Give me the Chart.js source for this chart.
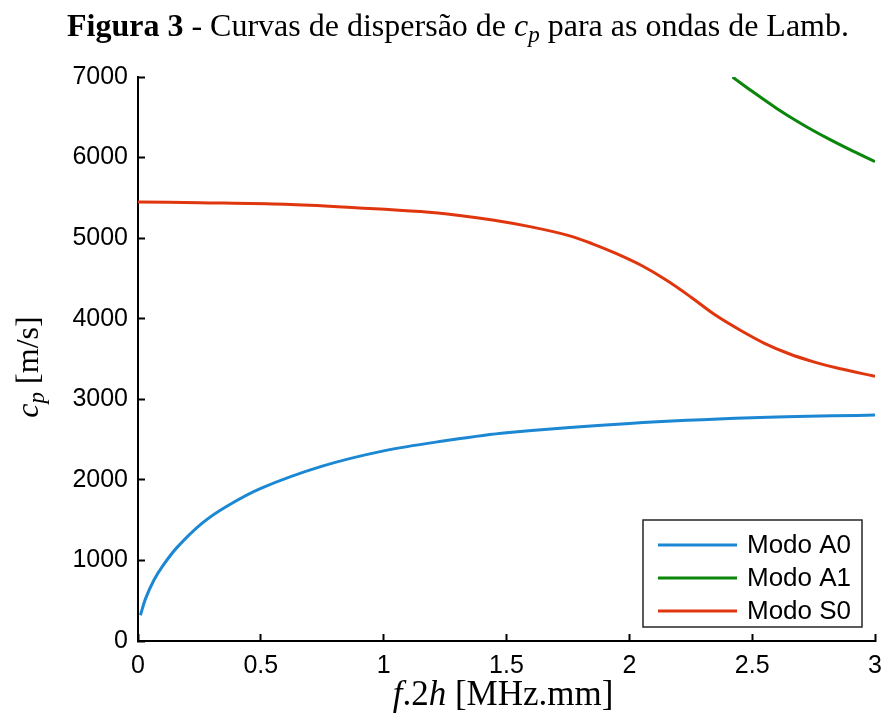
<!DOCTYPE html>
<html>
<head>
<meta charset="utf-8">
<script src="https://cdn.jsdelivr.net/npm/chart.js@4"></script>
<style>
  html, body { margin: 0; padding: 0; background: #fff; }
  #wrap { width: 883px; height: 715px; position: relative; }
</style>
</head>
<body>
<div id="wrap"><canvas id="grafico"></canvas></div>
<script>
// datos (f.2h en MHz.mm, cp en m/s)
const xA0 = [0.01, 0.03, 0.065, 0.1, 0.16, 0.26, 0.36, 0.5, 0.75, 1.0, 1.25, 1.5, 2.0, 2.5, 3.0];
const cpA0 = [320, 520, 757, 930, 1165, 1460, 1670, 1895, 2170, 2360, 2485, 2585, 2700, 2770, 2805];

const xA1 = [2.42, 2.5, 2.6, 2.7, 2.8, 2.9, 3.0];
const cpA1 = [7000, 6822, 6610, 6420, 6250, 6095, 5950];

const xS0 = [0, 0.25, 0.6, 0.9, 1.15, 1.3, 1.45, 1.6, 1.75, 1.85, 1.95, 2.05, 2.15, 2.25, 2.35, 2.45, 2.55, 2.65, 2.75, 2.85, 3.0];
const cpS0 = [5450, 5440, 5420, 5375, 5330, 5285, 5222, 5140, 5035, 4930, 4805, 4660, 4480, 4270, 4045, 3860, 3695, 3565, 3465, 3385, 3285];

const nomes = ["Modo A0", "Modo A1", "Modo S0"];
const cores = ["#1c87d2", "#0a860a", "#e0360e"];

const xTicks = [0, 0.5, 1, 1.5, 2, 2.5, 3];
const yTicks = [0, 1000, 2000, 3000, 4000, 5000, 6000, 7000];

function pares(xs, ys) {
  return xs.map((x, i) => ({ x: x, y: ys[i] }));
}

const serif = "'Liberation Serif', 'Times New Roman', serif";
const sans = "'Liberation Sans', Arial, sans-serif";

// escribe trozos de texto uno detras de otro (normal, negrita, italico, subindice)
function trozos(ctx, partes, x, y, tam) {
  let cx = x;
  partes.forEach((p) => {
    const t = p.sub ? tam * 0.72 : tam;
    ctx.font = `${p.i ? "italic " : ""}${p.b ? "bold " : ""}${t}px ${serif}`;
    ctx.fillText(p.t, cx, y + (p.sub ? tam * 0.19 : 0));
    cx += ctx.measureText(p.t).width;
  });
  return cx - x;
}

function anchoTrozos(ctx, partes, tam) {
  let w = 0;
  partes.forEach((p) => {
    const t = p.sub ? tam * 0.72 : tam;
    ctx.font = `${p.i ? "italic " : ""}${p.b ? "bold " : ""}${t}px ${serif}`;
    w += ctx.measureText(p.t).width;
  });
  return w;
}

const textos = {
  id: "textos",
  afterDraw(chart) {
    const ctx = chart.ctx;
    ctx.save();
    ctx.fillStyle = "#000";
    ctx.textBaseline = "alphabetic";
    ctx.textAlign = "left";

    // titulo
    const titulo = [
      { t: "Figura 3", b: true },
      { t: " - Curvas de dispersão de " },
      { t: "c", i: true },
      { t: "p", i: true, sub: true },
      { t: " para as ondas de Lamb." },
    ];
    const wt = anchoTrozos(ctx, titulo, 32);
    trozos(ctx, titulo, 458 - wt / 2, 36, 32);

    // eje x
    const ejeX = [
      { t: "f", i: true },
      { t: ".2" },
      { t: "h", i: true },
      { t: " [MHz.mm]" },
    ];
    const wx = anchoTrozos(ctx, ejeX, 35);
    trozos(ctx, ejeX, 503 - wx / 2, 705, 35);

    // eje y
    ctx.translate(38, 361);
    ctx.rotate(-Math.PI / 2);
    const ejeY = [
      { t: "c", i: true },
      { t: "p", i: true, sub: true },
      { t: " [m/s]" },
    ];
    const wy = anchoTrozos(ctx, ejeY, 32);
    trozos(ctx, ejeY, -wy / 2 - 6, 0, 32);
    ctx.restore();

    // leyenda dentro del grafico
    ctx.save();
    ctx.fillStyle = "#fff";
    ctx.fillRect(643, 520, 219, 107);
    ctx.strokeStyle = "#262626";
    ctx.lineWidth = 1.5;
    ctx.strokeRect(643, 520, 219, 107);
    ctx.font = `26px ${sans}`;
    ctx.textBaseline = "middle";
    chart.data.datasets.forEach((ds, i) => {
      const y = 545 + i * 33;
      ctx.strokeStyle = ds.borderColor;
      ctx.lineWidth = 3;
      ctx.beginPath();
      ctx.moveTo(658, y);
      ctx.lineTo(737, y);
      ctx.stroke();
      ctx.fillStyle = "#000";
      ctx.fillText(ds.label, 747, y + 1);
    });
    ctx.restore();
  },
};

const series = [pares(xA0, cpA0), pares(xA1, cpA1), pares(xS0, cpS0)];

new Chart(document.getElementById("grafico"), {
  type: "line",
  data: {
    datasets: series.map((d, i) => ({
      label: nomes[i],
      data: d,
      borderColor: cores[i],
      backgroundColor: cores[i],
      borderWidth: 3,
      pointRadius: 0,
      tension: 0.35,
      fill: false,
    })),
  },
  options: {
    responsive: true,
    maintainAspectRatio: false,
    animation: false,
    layout: { padding: { top: 77, right: 8, left: 0, bottom: 0 } },
    plugins: {
      legend: { display: false },
      tooltip: { enabled: false },
    },
    scales: {
      x: {
        type: "linear",
        min: 0,
        max: 3,
        afterFit: (s) => { s.height = 74; s.paddingLeft = 0; s.paddingRight = 0; },
        afterBuildTicks: (s) => { s.ticks = xTicks.map((v) => ({ value: v })); },
        grid: { drawOnChartArea: false, tickLength: -7, color: "#000", tickWidth: 2 },
        border: { color: "#000", width: 2 },
        ticks: {
          padding: 17,
          color: "#000",
          font: { family: sans, size: 25 },
          maxRotation: 0,
          callback: (v) => String(v),
        },
      },
      y: {
        min: 0,
        max: 7000,
        afterFit: (s) => { s.width = 138; s.paddingTop = 0; s.paddingBottom = 0; },
        afterBuildTicks: (s) => { s.ticks = yTicks.map((v) => ({ value: v })); },
        grid: { drawOnChartArea: false, tickLength: -7, color: "#000", tickWidth: 2 },
        border: { color: "#000", width: 2 },
        ticks: {
          padding: 17,
          color: "#000",
          font: { family: sans, size: 25 },
          callback: (v) => String(v),
        },
      },
    },
  },
  plugins: [textos],
});
</script>
</body>
</html>
